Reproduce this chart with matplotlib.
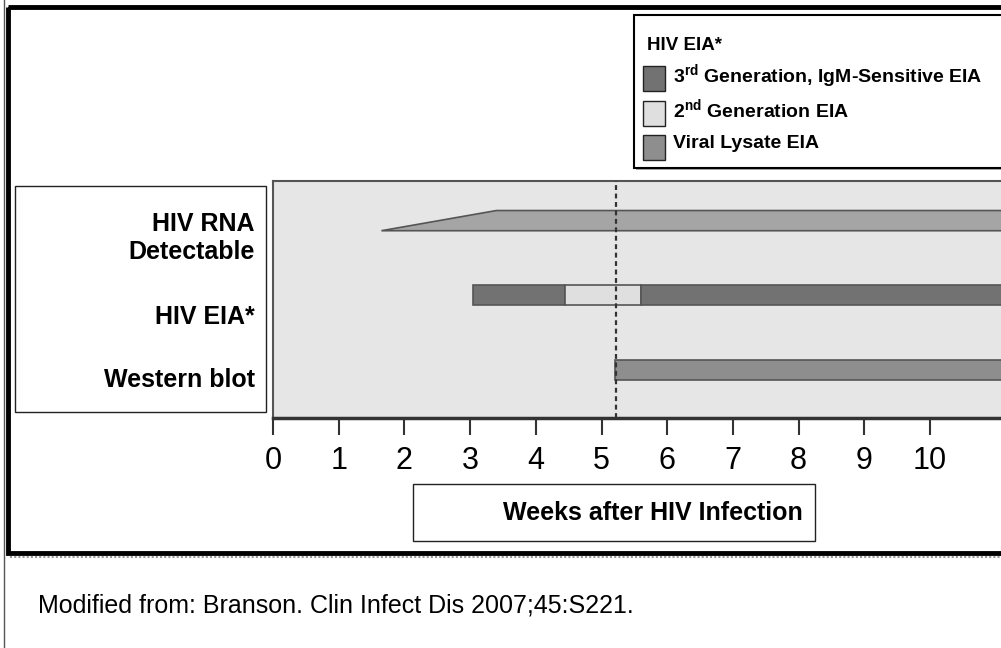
import matplotlib
matplotlib.use('Agg')
import matplotlib.pyplot as plt
from matplotlib import font_manager
from matplotlib.patches import Rectangle, Polygon

plt.rcParams['font.family'] = ['Liberation Sans', 'DejaVu Sans']
plt.rcParams['mathtext.fontset'] = 'custom'
plt.rcParams['mathtext.rm'] = 'Liberation Sans'
plt.rcParams['mathtext.bf'] = 'Liberation Sans:bold'

# narrow face for the tick numbers if it is there
try:
    font_manager.findfont('Liberation Sans Narrow', fallback_to_default=False)
    narrow = 'Liberation Sans Narrow'
except ValueError:
    narrow = 'Liberation Sans'

# rows (top to bottom)
row_labels = ['HIV RNA\nDetectable', 'HIV EIA*', 'Western blot']

# weeks after infection
rna_start = 1.65      # first detectable (tip of ramp)
rna_full = 3.4        # end of ramp
eia_starts = [3.05, 4.45, 5.6]
eia_ends = [4.45, 5.6, 12.0]
eia_kinds = ['3rd', '2nd', '3rd']
wb_start = 5.2
wb_end = 12.0
marker_week = 5.22
weeks = list(range(0, 11))

legend_title = 'HIV EIA*'
legend_keys = ['3rd', '2nd', 'lysate']
legend_labels = [r'3$^{\mathbf{rd}}$ Generation, IgM-Sensitive EIA',
                 r'2$^{\mathbf{nd}}$ Generation EIA',
                 'Viral Lysate EIA']
colors = {'3rd': '#727272', '2nd': '#dfdfdf', 'lysate': '#8e8e8e', 'rna': '#a5a5a5'}

W, H = 1001, 648
fig = plt.figure(figsize=(W / 100, H / 100), dpi=100)

# slide decorations in pixel coordinates
bg = fig.add_axes([0, 0, 1, 1], zorder=0)
bg.set_xlim(0, W)
bg.set_ylim(H, 0)
bg.axis('off')
bg.plot([4, 4], [0, H], color='#555555', lw=1)
bg.add_patch(Rectangle((8, 7), 1100, 546, fill=False, ec='black', lw=3.5))
bg.plot([10, W], [557, 557], color='#999999', lw=1.5, ls=(0, (1, 1)))

# left label box
bg.add_patch(Rectangle((15, 186), 251, 226, fc='white', ec='#222222', lw=1))
label_y = [238, 317, 380]
for lab, y in zip(row_labels, label_y):
    bg.text(255, y, lab, ha='right', va='center', fontsize=18,
            fontweight='bold', linespacing=1.25)

# x label box
bg.add_patch(Rectangle((413, 484), 402, 57, fc='white', ec='#222222', lw=1))
bg.text(803, 513, 'Weeks after HIV Infection', ha='right', va='center',
        fontsize=18, fontweight='bold')

# legend box
bg.add_patch(Rectangle((636, 17), 400, 153, fc='#aaaaaa', ec='none'))
bg.add_patch(Rectangle((634, 15), 400, 153, fc='white', ec='black', lw=1.5))
bg.text(647, 46, legend_title, ha='left', va='center', fontsize=13.5,
        fontweight='bold')
sq_y = [78, 113, 147]
txt_y = [77, 110, 143]
for k, lab, sy, ty in zip(legend_keys, legend_labels, sq_y, txt_y):
    bg.add_patch(Rectangle((643, sy - 12.5), 22, 25, fc=colors[k],
                           ec='#222222', lw=1))
    bg.text(673, ty, lab, ha='left', va='center', fontsize=14,
            fontweight='bold')

bg.text(38, 605, 'Modified from: Branson. Clin Infect Dis 2007;45:S221.',
        ha='left', va='center', fontsize=18)

# timeline axes
px = 65.7  # pixels per week
left, top, bottom = 273, 181, 418
ax = fig.add_axes([left / W, 1 - bottom / H, (W - left) / W, (bottom - top) / H],
                  zorder=2)
ax.set_facecolor('#e6e6e6')
ax.set_xlim(0, (W - left) / px)
ax.set_ylim(2.64, -0.53)

bh = 0.27
rna = Polygon([(rna_start, 0 + bh / 2), (rna_full, 0 - bh / 2),
               (wb_end, 0 - bh / 2), (wb_end, 0 + bh / 2)],
              closed=True, fc=colors['rna'], ec='#555555', lw=1.2)
ax.add_patch(rna)

ax.barh([1] * len(eia_starts), [e - s for s, e in zip(eia_starts, eia_ends)],
        left=eia_starts, height=bh, color=[colors[k] for k in eia_kinds],
        edgecolor='#555555', linewidth=1.2)
ax.barh([2], [wb_end - wb_start], left=[wb_start], height=bh,
        color=colors['lysate'], edgecolor='#555555', linewidth=1.2)

ax.axvline(marker_week, color='#333333', lw=1.6, ls=(0, (2.2, 1.6)), zorder=3)

ax.spines['right'].set_visible(False)
for s in ['top', 'left']:
    ax.spines[s].set_color('#555555')
    ax.spines[s].set_linewidth(1.5)
ax.spines['bottom'].set_color('#333333')
ax.spines['bottom'].set_linewidth(2.5)

ax.set_yticks([])
ax.set_xticks(weeks)
ax.set_xticklabels([str(w) for w in weeks], family=narrow, fontsize=22)
ax.tick_params(axis='x', direction='out', length=12, width=1.5,
               color='#333333', pad=8)

fig.savefig('out.png', dpi=100, facecolor='white')
